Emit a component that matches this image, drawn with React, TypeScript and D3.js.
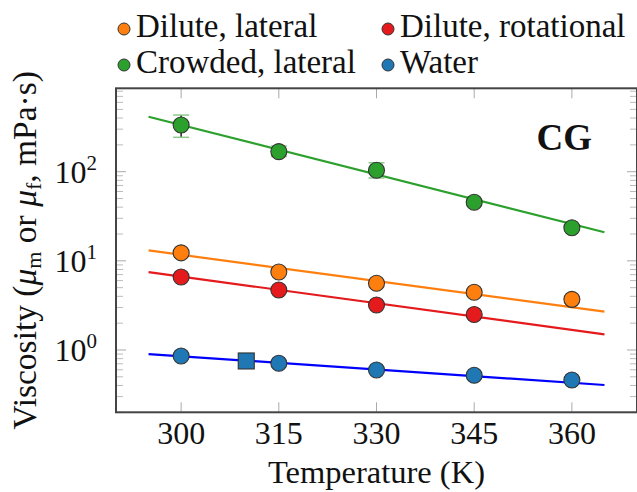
import React, { useEffect, useRef } from "react";
import * as d3 from "d3";

// temperatures (K) where the simulations were run
const temps = [300, 315, 330, 345, 360];
const rotTemps = [300, 315, 330, 345];

// viscosities (mPa·s)
const diluteLateral = [12.3, 7.5, 5.6, 4.45, 3.7];
const diluteRotational = [6.6, 4.7, 3.2, 2.5];
const crowdedLateral = [334, 168, 104, 45.5, 23.5];
const crowdedLow = [243, 148, 85, 43, 22.5];
const crowdedHigh = [432, 194, 126, 48, 24.5];
const water = [0.857, 0.71, 0.597, 0.52, 0.461];

// experimental water point
const expTemps = [310];
const expWater = [0.753];

// fitted lines, evaluated at the ends of the fit range
const fitTemps = [295, 365];
const fitCrowded = [414, 20.9];
const fitLateral = [13.1, 2.69];
const fitRotational = [7.47, 1.5];
const fitWater = [0.9, 0.405];

const xTicks = [300, 315, 330, 345, 360];
const yMajor = [1, 10, 100];
const yTickLabels = ["0", "1", "2"];

const legendItems = [
  { label: "Dilute, lateral", color: "#ff7f0e" },
  { label: "Dilute, rotational", color: "#e41a1c" },
  { label: "Crowded, lateral", color: "#2ca02c" },
  { label: "Water", color: "#1f77b4" },
];

const W = 637;
const H = 492;
const FONT = "'Liberation Serif', serif";

const App = () => {
  const chartRef = useRef(null);

  useEffect(() => {
    d3.select(chartRef.current).selectAll("*").remove();
    drawChart();
  }, []);

  const drawChart = () => {
    const svg = d3
      .select(chartRef.current)
      .append("svg")
      .attr("width", W)
      .attr("height", H)
      .style("display", "block");

    svg.append("rect").attr("width", W).attr("height", H).attr("fill", "#fff");

    const left = 116, right = 637, top = 88.3, bottom = 412.3;
    const x = d3.scaleLinear().domain([290, 370]).range([left, right]);
    const y = d3.scaleLog().domain([0.2, 862]).range([bottom, top]);

    const g = svg.append("g");

    // x ticks, bottom and top
    xTicks.forEach((t) => {
      g.append("line")
        .attr("x1", x(t)).attr("x2", x(t))
        .attr("y1", bottom).attr("y2", bottom - 10)
        .attr("stroke", "#aaa").attr("stroke-width", 1);
      g.append("line")
        .attr("x1", x(t)).attr("x2", x(t))
        .attr("y1", top).attr("y2", top + 10)
        .attr("stroke", "#aaa").attr("stroke-width", 1);
      svg.append("text")
        .attr("x", x(t)).attr("y", 444)
        .attr("text-anchor", "middle")
        .attr("font-family", FONT).attr("font-size", 32)
        .attr("fill", "#111")
        .text(t);
    });

    // y ticks: minor and major on both sides
    const minor = [];
    [0.1, 1, 10, 100].forEach((dec) => {
      for (let k = 2; k <= 9; k++) {
        const v = dec * k;
        if (v >= 0.2 && v <= 862) minor.push(v);
      }
    });
    minor.forEach((v) => {
      [[left, left + 7], [right, right - 7]].forEach(([a, b]) => {
        g.append("line")
          .attr("x1", a).attr("x2", b)
          .attr("y1", y(v)).attr("y2", y(v))
          .attr("stroke", "#bbb").attr("stroke-width", 1);
      });
    });
    yMajor.forEach((v, i) => {
      [[left, left + 10], [right, right - 10]].forEach(([a, b]) => {
        g.append("line")
          .attr("x1", a).attr("x2", b)
          .attr("y1", y(v)).attr("y2", y(v))
          .attr("stroke", "#aaa").attr("stroke-width", 1);
      });
      const lab = svg.append("text")
        .attr("x", 97).attr("y", y(v) + 11)
        .attr("text-anchor", "end")
        .attr("font-family", FONT).attr("font-size", 32)
        .attr("fill", "#111");
      lab.append("tspan").text("10");
      lab.append("tspan")
        .attr("font-size", 21).attr("dy", -13)
        .text(yTickLabels[i]);
    });

    // fits
    const line = d3.line().x((d) => x(d[0])).y((d) => y(d[1]));
    const fits = [
      { vals: fitCrowded, color: "#2ca02c" },
      { vals: fitLateral, color: "#ff7f0e" },
      { vals: fitRotational, color: "#e41a1c" },
      { vals: fitWater, color: "#0000ff" },
    ];
    fits.forEach((f) => {
      g.append("path")
        .attr("d", line(fitTemps.map((t, i) => [t, f.vals[i]])))
        .attr("fill", "none")
        .attr("stroke", f.color)
        .attr("stroke-width", 2.2);
    });

    // error bars for crowded
    temps.forEach((t, i) => {
      g.append("line")
        .attr("x1", x(t)).attr("x2", x(t))
        .attr("y1", y(crowdedLow[i])).attr("y2", y(crowdedHigh[i]))
        .attr("stroke", "#222").attr("stroke-width", 1.5);
      [crowdedLow[i], crowdedHigh[i]].forEach((v) => {
        g.append("line")
          .attr("x1", x(t) - 8).attr("x2", x(t) + 8)
          .attr("y1", y(v)).attr("y2", y(v))
          .attr("stroke", "#8cc98c").attr("stroke-width", 1.5);
      });
    });

    const dots = (ts, vals, color) => {
      g.selectAll(null)
        .data(vals)
        .enter()
        .append("circle")
        .attr("cx", (d, i) => x(ts[i]))
        .attr("cy", (d) => y(d))
        .attr("r", 8)
        .attr("fill", color)
        .attr("stroke", "#333")
        .attr("stroke-width", 1.1);
    };
    dots(temps, crowdedLateral, "#2ca02c");
    dots(temps, diluteLateral, "#ff7f0e");
    dots(rotTemps, diluteRotational, "#e41a1c");
    dots(temps, water, "#1f77b4");

    g.selectAll(null)
      .data(expWater)
      .enter()
      .append("rect")
      .attr("x", (d, i) => x(expTemps[i]) - 8)
      .attr("y", (d) => y(d) - 8)
      .attr("width", 16)
      .attr("height", 16)
      .attr("fill", "#1f77b4")
      .attr("stroke", "#333")
      .attr("stroke-width", 1.1);

    // frame
    g.append("rect")
      .attr("x", left).attr("y", top)
      .attr("width", right - left).attr("height", bottom - top)
      .attr("fill", "none")
      .attr("stroke", "#444")
      .attr("stroke-width", 2);

    svg.append("text")
      .attr("x", 592).attr("y", 150)
      .attr("text-anchor", "end")
      .attr("font-family", FONT).attr("font-weight", "bold")
      .attr("font-size", 37)
      .attr("fill", "#111")
      .text("CG");

    // axis labels
    svg.append("text")
      .attr("x", (left + right) / 2).attr("y", 483)
      .attr("text-anchor", "middle")
      .attr("font-family", FONT).attr("font-size", 32.5)
      .attr("fill", "#111")
      .text("Temperature (K)");

    const yl = svg.append("text")
      .attr("transform", `translate(36,${(top + bottom) / 2}) rotate(-90)`)
      .attr("text-anchor", "middle")
      .attr("font-family", FONT).attr("font-size", 33.5)
      .attr("fill", "#111");
    yl.append("tspan").text("Viscosity (");
    yl.append("tspan").attr("font-style", "italic").text("μ");
    yl.append("tspan").attr("font-size", 22).attr("dy", 5).text("m");
    yl.append("tspan").attr("dy", -5).text(" or ");
    yl.append("tspan").attr("font-style", "italic").text("μ");
    yl.append("tspan").attr("font-size", 22).attr("dy", 5).text("f");
    yl.append("tspan").attr("dy", -5).text(", mPa·s)");

    // legend
    const legX = [124, 388];
    const legY = [37, 73];
    legendItems.forEach((item, i) => {
      const lx = legX[i % 2];
      const ly = legY[Math.floor(i / 2)];
      svg.append("circle")
        .attr("cx", lx).attr("cy", ly - 8)
        .attr("r", 6)
        .attr("fill", item.color)
        .attr("stroke", "#333")
        .attr("stroke-width", 1);
      svg.append("text")
        .attr("x", lx + 12).attr("y", ly)
        .attr("font-family", FONT).attr("font-size", 33)
        .attr("fill", "#111")
        .text(item.label);
    });
  };

  return (
    <div style={{ position: "fixed", left: 0, top: 0 }}>
      <div ref={chartRef}></div>
    </div>
  );
};

export default App;
